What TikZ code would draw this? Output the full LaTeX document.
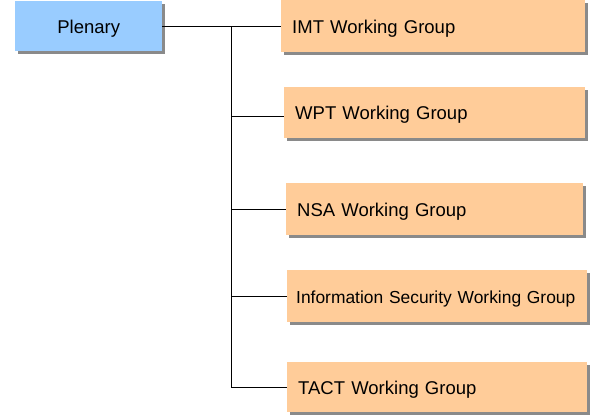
\documentclass[tikz,border=0pt]{standalone}
\usepackage{fontspec}
\setmainfont{Liberation Sans}
\usetikzlibrary{shadows}
\definecolor{plenblue}{HTML}{99CCFF}
\definecolor{wgorange}{HTML}{FFCC99}
\definecolor{shadowgray}{HTML}{8A8A8A}
\begin{document}
\begin{tikzpicture}[x=1pt,y=-1pt,
  box/.style={draw=none, rectangle, anchor=north west, inner ysep=0pt,
    text height=14.6pt, text depth=0pt,
    font=\fontsize{18.5}{22}\selectfont,
    drop shadow={shadow xshift=3pt, shadow yshift=-3pt, fill=shadowgray, opacity=1}},
  wgbox/.style={box, fill=wgorange, inner xsep=11pt, align=left},
  conn/.style={draw=black, line width=0.9pt}]
\useasboundingbox (0,0) rectangle (600,417);
\node[box, fill=plenblue, minimum width=147pt, minimum height=50pt, inner xsep=0pt] (plen) at (15,1) {Plenary};
\node[wgbox, text width=282pt, minimum height=52pt] (imt) at (281,0) {IMT Working Group};
\node[wgbox, text width=279pt, minimum height=51pt] (wpt) at (284,87) {WPT Working Group};
\node[wgbox, text width=275pt, minimum height=52pt] (nsa) at (286,183) {NSA Working Group};
\node[wgbox, minimum height=52pt, inner xsep=9pt, text width=282pt, font=\fontsize{17.4}{21}\selectfont, text height=13.6pt] (isec) at (287,270) {Information Security Working Group};
\node[wgbox, text width=278pt, minimum height=50pt] (tact) at (287,362) {TACT Working Group};
\coordinate (bus) at (231,0);
\coordinate (wptin) at ([yshift=-4pt]wpt.west);
\draw[conn] (plen.east) -- (imt.west);
\draw[conn] (bus |- imt.west) -- (bus |- tact.west) -- (tact.west);
\draw[conn] (bus |- wptin) -- (wptin);
\draw[conn] (bus |- nsa.west) -- (nsa.west);
\draw[conn] (bus |- isec.west) -- (isec.west);
\end{tikzpicture}
\end{document}
